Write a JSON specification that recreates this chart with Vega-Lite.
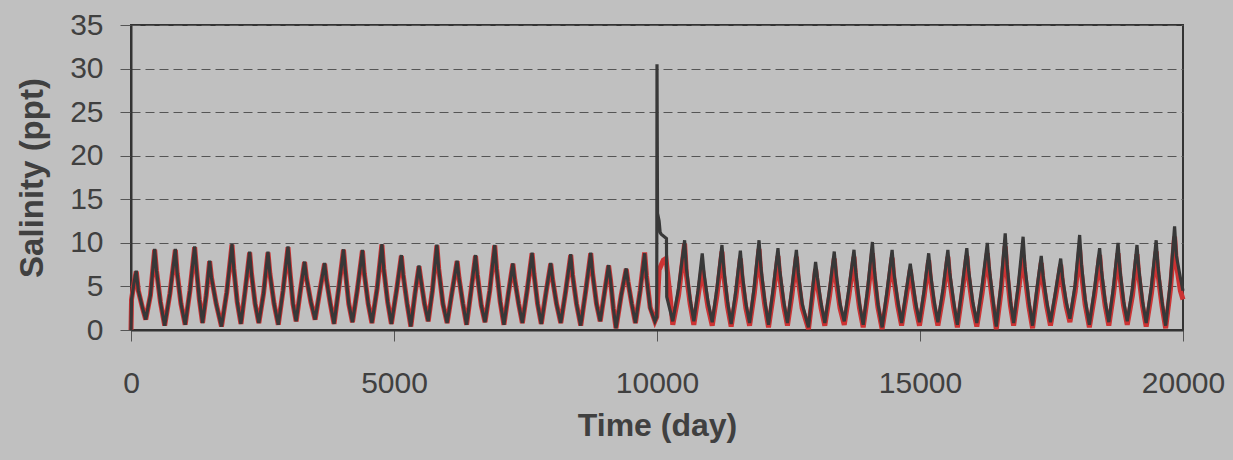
{
"$schema":"https://vega.github.io/schema/vega-lite/v6.json",
"width":1052,"height":305,
"autosize":{"type":"none"},
"padding":{"left":131,"top":25,"right":50,"bottom":130},
"background":"#c0c0c0",
"config":{
 "view":{"stroke":"#333333","strokeWidth":2,"fill":"#c0c0c0"},
 "font":"Liberation Sans",
 "axis":{"labelFont":"Liberation Sans","titleFont":"Liberation Sans","labelColor":"#404040","titleColor":"#404040","labelFontSize":30,"titleFontSize":32,"titleFontWeight":"bold","domainColor":"#333333","domainWidth":2,"tickColor":"#555555","tickWidth":1,"tickSize":11}
},
"data":{"values":[
{"t":0,"d":0,"r":0},{"t":10,"d":3.5,"r":3.5},{"t":60,"d":5.5,"r":5.5},{"t":100,"d":6.8,"r":6.7},{"t":140,"d":4.5,"r":4.5},{"t":220,"d":2.5,"r":2.5},{"t":280,"d":1.2,"r":1.2},
{"t":370,"d":4.0,"r":4.0},{"t":450,"d":9.3,"r":9.2},{"t":485,"d":6.8,"r":6.8},{"t":560,"d":3.2,"r":3.2},{"t":640,"d":0.5,"r":0.5},
{"t":740,"d":4.2,"r":4.2},{"t":843,"d":9.3,"r":9.2},{"t":878,"d":6.5,"r":6.5},{"t":950,"d":3.0,"r":3.0},{"t":1030,"d":0.6,"r":0.6},
{"t":1120,"d":4.5,"r":4.5},{"t":1210,"d":9.6,"r":9.5},{"t":1245,"d":7.0,"r":7.0},{"t":1300,"d":3.5,"r":3.5},{"t":1360,"d":0.8,"r":0.8},
{"t":1430,"d":4.0,"r":4.0},{"t":1495,"d":7.95,"r":7.9},{"t":1530,"d":6.0,"r":6.0},{"t":1620,"d":3.0,"r":3.0},{"t":1720,"d":0.4,"r":0.4},
{"t":1820,"d":4.3,"r":4.3},{"t":1920,"d":9.85,"r":9.8},{"t":1955,"d":7.0,"r":7.0},{"t":2020,"d":3.2,"r":3.2},{"t":2090,"d":0.7,"r":0.7},
{"t":2170,"d":4.5,"r":4.5},{"t":2256,"d":9.0,"r":8.9},{"t":2290,"d":6.5,"r":6.5},{"t":2360,"d":3.0,"r":3.0},{"t":2430,"d":0.8,"r":0.8},
{"t":2520,"d":4.2,"r":4.2},{"t":2604,"d":9.0,"r":8.9},{"t":2640,"d":6.5,"r":6.5},{"t":2720,"d":3.0,"r":3.0},{"t":2800,"d":0.6,"r":0.6},
{"t":2890,"d":4.5,"r":4.5},{"t":2985,"d":9.6,"r":9.5},{"t":3020,"d":6.8,"r":6.8},{"t":3080,"d":3.0,"r":3.0},{"t":3140,"d":1.0,"r":1.0},
{"t":3220,"d":4.5,"r":4.5},{"t":3300,"d":7.85,"r":7.8},{"t":3335,"d":6.0,"r":6.0},{"t":3420,"d":3.2,"r":3.2},{"t":3500,"d":1.2,"r":1.2},
{"t":3590,"d":4.5,"r":4.5},{"t":3680,"d":7.7,"r":7.6},{"t":3715,"d":5.8,"r":5.8},{"t":3790,"d":3.0,"r":3.0},{"t":3860,"d":0.7,"r":0.7},
{"t":3950,"d":4.8,"r":4.8},{"t":4040,"d":9.26,"r":9.2},{"t":4075,"d":6.8,"r":6.8},{"t":4140,"d":3.0,"r":3.0},{"t":4210,"d":0.9,"r":0.9},
{"t":4300,"d":4.5,"r":4.5},{"t":4400,"d":9.2,"r":9.1},{"t":4435,"d":6.5,"r":6.5},{"t":4510,"d":3.0,"r":3.0},{"t":4580,"d":0.8,"r":0.8},
{"t":4680,"d":4.8,"r":4.8},{"t":4770,"d":9.85,"r":9.8},{"t":4805,"d":7.0,"r":7.0},{"t":4880,"d":3.2,"r":3.2},{"t":4950,"d":0.7,"r":0.7},
{"t":5050,"d":4.6,"r":4.6},{"t":5140,"d":8.6,"r":8.5},{"t":5175,"d":6.3,"r":6.3},{"t":5250,"d":3.0,"r":3.0},{"t":5320,"d":0.4,"r":0.4},
{"t":5400,"d":4.2,"r":4.2},{"t":5475,"d":7.4,"r":7.3},{"t":5510,"d":5.8,"r":5.8},{"t":5580,"d":3.0,"r":3.0},{"t":5650,"d":1.0,"r":1.0},
{"t":5730,"d":4.5,"r":4.5},{"t":5815,"d":9.8,"r":9.7},{"t":5850,"d":7.0,"r":7.0},{"t":5930,"d":3.0,"r":3.0},{"t":6010,"d":0.8,"r":0.8},
{"t":6110,"d":4.6,"r":4.6},{"t":6200,"d":7.95,"r":7.9},{"t":6235,"d":6.0,"r":6.0},{"t":6310,"d":3.0,"r":3.0},{"t":6380,"d":0.6,"r":0.6},
{"t":6465,"d":4.5,"r":4.5},{"t":6550,"d":8.6,"r":8.5},{"t":6585,"d":6.3,"r":6.3},{"t":6660,"d":2.8,"r":2.8},{"t":6730,"d":0.9,"r":0.9},
{"t":6820,"d":4.5,"r":4.5},{"t":6915,"d":9.75,"r":9.7},{"t":6950,"d":7.0,"r":7.0},{"t":7020,"d":3.2,"r":3.2},{"t":7090,"d":0.6,"r":0.6},
{"t":7175,"d":4.2,"r":4.2},{"t":7260,"d":7.65,"r":7.6},{"t":7295,"d":5.8,"r":5.8},{"t":7370,"d":3.0,"r":3.0},{"t":7440,"d":0.8,"r":0.8},
{"t":7530,"d":4.5,"r":4.5},{"t":7625,"d":8.87,"r":8.8},{"t":7660,"d":6.5,"r":6.5},{"t":7730,"d":3.0,"r":3.0},{"t":7800,"d":0.7,"r":0.7},
{"t":7890,"d":4.3,"r":4.3},{"t":7980,"d":7.7,"r":7.6},{"t":8015,"d":5.8,"r":5.8},{"t":8090,"d":3.0,"r":3.0},{"t":8170,"d":0.8,"r":0.8},
{"t":8265,"d":4.5,"r":4.5},{"t":8360,"d":8.7,"r":8.6},{"t":8395,"d":6.3,"r":6.3},{"t":8470,"d":3.0,"r":3.0},{"t":8550,"d":0.5,"r":0.5},
{"t":8645,"d":4.5,"r":4.5},{"t":8740,"d":8.87,"r":8.8},{"t":8775,"d":6.5,"r":6.5},{"t":8850,"d":3.0,"r":3.0},{"t":8920,"d":1.0,"r":1.0},
{"t":9000,"d":4.2,"r":4.2},{"t":9080,"d":7.45,"r":7.4},{"t":9115,"d":5.8,"r":5.8},{"t":9170,"d":2.5,"r":2.5},{"t":9220,"d":0.2,"r":0.2},
{"t":9320,"d":4.0,"r":4.0},{"t":9415,"d":7.07,"r":7.0},{"t":9450,"d":5.5,"r":5.5},{"t":9520,"d":3.0,"r":3.0},{"t":9590,"d":0.8,"r":0.8},
{"t":9680,"d":4.5,"r":4.5},{"t":9765,"d":8.8,"r":8.9},{"t":9800,"d":6.0,"r":6.2},{"t":9870,"d":2.5,"r":2.6},{"t":9960,"d":1.0,"r":1.0},
{"t":9995,"d":1.5,"r":1.5},{"t":10000,"d":30.5,"r":2.0},{"t":10010,"d":13.4},{"t":10040,"d":12.5,"r":6.9},{"t":10060,"d":11.2},{"t":10080,"d":11.0},
{"t":10120,"r":8.0},{"t":10170,"r":8.2},{"t":10180,"d":10.5},{"t":10185,"d":3.8},{"t":10250,"r":3.8},{"t":10300,"d":1.0,"r":0.6},
{"t":10410,"d":4.8,"r":4.0},{"t":10525,"d":10.3,"r":9.9},{"t":10560,"d":7.0,"r":6.3},{"t":10630,"d":3.5,"r":3.0},{"t":10700,"d":1.0,"r":0.6},
{"t":10780,"d":4.5,"r":3.8},{"t":10860,"d":8.8,"r":7.2},{"t":10895,"d":6.5,"r":5.5},{"t":10970,"d":3.2,"r":2.6},{"t":11050,"d":0.9,"r":0.5},
{"t":11140,"d":4.8,"r":4.0},{"t":11235,"d":9.75,"r":9.0},{"t":11270,"d":7.0,"r":6.2},{"t":11340,"d":3.3,"r":2.7},{"t":11410,"d":0.7,"r":0.4},
{"t":11500,"d":4.5,"r":3.8},{"t":11585,"d":9.1,"r":8.2},{"t":11620,"d":6.5,"r":5.7},{"t":11690,"d":3.0,"r":2.5},{"t":11760,"d":0.8,"r":0.5},
{"t":11850,"d":5.0,"r":4.2},{"t":11940,"d":10.3,"r":9.3},{"t":11975,"d":7.2,"r":6.3},{"t":12050,"d":3.3,"r":2.8},{"t":12120,"d":0.6,"r":0.3},
{"t":12210,"d":4.8,"r":4.0},{"t":12300,"d":9.4,"r":8.5},{"t":12335,"d":6.8,"r":6.0},{"t":12410,"d":3.2,"r":2.7},{"t":12480,"d":0.8,"r":0.5},
{"t":12565,"d":4.8,"r":4.0},{"t":12650,"d":9.2,"r":8.4},{"t":12685,"d":6.6,"r":5.8},{"t":12760,"d":3.0,"r":2.5},{"t":12880,"d":0.3,"r":0.1},
{"t":12950,"d":4.2,"r":3.6},{"t":13015,"d":7.8,"r":7.0},{"t":13050,"d":6.0,"r":5.2},{"t":13120,"d":3.0,"r":2.5},{"t":13190,"d":0.8,"r":0.5},
{"t":13280,"d":4.6,"r":3.9},{"t":13370,"d":9.0,"r":8.2},{"t":13405,"d":6.5,"r":5.7},{"t":13480,"d":3.0,"r":2.5},{"t":13560,"d":1.0,"r":0.6},
{"t":13650,"d":4.8,"r":4.0},{"t":13745,"d":9.2,"r":8.4},{"t":13780,"d":6.6,"r":5.8},{"t":13850,"d":3.0,"r":2.5},{"t":13920,"d":0.6,"r":0.3},
{"t":14010,"d":5.0,"r":4.2},{"t":14095,"d":10.1,"r":8.8},{"t":14130,"d":7.0,"r":6.2},{"t":14200,"d":3.0,"r":2.6},{"t":14280,"d":0.3,"r":0.1},
{"t":14380,"d":4.8,"r":4.0},{"t":14470,"d":9.2,"r":8.3},{"t":14505,"d":6.5,"r":5.8},{"t":14580,"d":3.2,"r":2.7},{"t":14650,"d":0.8,"r":0.5},
{"t":14735,"d":4.3,"r":3.7},{"t":14815,"d":7.6,"r":6.9},{"t":14850,"d":6.0,"r":5.3},{"t":14920,"d":3.0,"r":2.5},{"t":14990,"d":0.9,"r":0.5},
{"t":15080,"d":4.6,"r":3.9},{"t":15165,"d":8.8,"r":8.0},{"t":15200,"d":6.5,"r":5.7},{"t":15270,"d":3.2,"r":2.7},{"t":15340,"d":0.9,"r":0.5},
{"t":15440,"d":4.8,"r":4.0},{"t":15530,"d":9.2,"r":8.4},{"t":15565,"d":6.6,"r":5.8},{"t":15640,"d":3.2,"r":2.6},{"t":15710,"d":0.6,"r":0.3},
{"t":15800,"d":4.8,"r":4.1},{"t":15890,"d":9.4,"r":8.5},{"t":15925,"d":6.8,"r":6.0},{"t":16000,"d":3.3,"r":2.7},{"t":16080,"d":0.8,"r":0.4},
{"t":16180,"d":5.0,"r":4.2},{"t":16280,"d":10.0,"r":8.8},{"t":16315,"d":7.2,"r":6.3},{"t":16390,"d":3.3,"r":2.8},{"t":16450,"d":0.4,"r":0.1},
{"t":16540,"d":5.2,"r":4.4},{"t":16620,"d":11.1,"r":9.6},{"t":16655,"d":7.5,"r":6.5},{"t":16720,"d":3.3,"r":2.8},{"t":16780,"d":0.8,"r":0.5},
{"t":16870,"d":5.2,"r":4.4},{"t":16960,"d":10.7,"r":8.6},{"t":16995,"d":7.3,"r":6.3},{"t":17070,"d":3.3,"r":2.7},{"t":17140,"d":0.5,"r":0.2},
{"t":17220,"d":4.6,"r":3.9},{"t":17305,"d":8.5,"r":7.7},{"t":17340,"d":6.2,"r":5.5},{"t":17410,"d":3.2,"r":2.7},{"t":17480,"d":0.9,"r":0.5},
{"t":17580,"d":4.5,"r":3.9},{"t":17675,"d":8.2,"r":7.5},{"t":17710,"d":6.0,"r":5.3},{"t":17780,"d":3.2,"r":2.7},{"t":17850,"d":1.3,"r":0.9},
{"t":17950,"d":5.2,"r":4.4},{"t":18035,"d":10.9,"r":9.2},{"t":18070,"d":7.5,"r":6.5},{"t":18140,"d":3.5,"r":2.9},{"t":18220,"d":0.6,"r":0.3},
{"t":18320,"d":4.8,"r":4.0},{"t":18415,"d":9.4,"r":8.6},{"t":18450,"d":6.8,"r":6.0},{"t":18520,"d":3.3,"r":2.8},{"t":18590,"d":0.9,"r":0.5},
{"t":18680,"d":5.0,"r":4.2},{"t":18765,"d":10.0,"r":8.8},{"t":18800,"d":7.0,"r":6.2},{"t":18870,"d":3.3,"r":2.8},{"t":18940,"d":1.0,"r":0.6},
{"t":19040,"d":4.8,"r":4.0},{"t":19125,"d":9.75,"r":8.7},{"t":19160,"d":7.0,"r":6.2},{"t":19230,"d":3.3,"r":2.8},{"t":19300,"d":0.8,"r":0.4},
{"t":19400,"d":5.0,"r":4.2},{"t":19490,"d":10.3,"r":9.0},{"t":19525,"d":7.2,"r":6.4},{"t":19600,"d":3.3,"r":2.8},{"t":19670,"d":0.5,"r":0.2},
{"t":19760,"d":5.5,"r":4.6},{"t":19840,"d":11.9,"r":10.7},{"t":19875,"d":8.5,"r":7.5},{"t":19950,"d":6.0,"r":4.5},{"t":20000,"d":4.5,"r":3.5}
]},
"encoding":{
 "x":{"field":"t","type":"quantitative","scale":{"domain":[0,20000],"nice":false,"zero":false},
  "axis":{"title":"Time (day)","values":[0,5000,10000,15000,20000],"format":"d","grid":false,"labelPadding":27,"titlePadding":12,"labelFlush":false,"labelOverlap":false}}
},
"layer":[
 {"mark":{"type":"line","color":"#cc3333","strokeWidth":5,"invalid":"filter"},
  "encoding":{"y":{"field":"r","type":"quantitative","title":"Salinity (ppt)","scale":{"domain":[0,35],"nice":false},
   "axis":{"values":[0,5,10,15,20,25,30,35],"grid":true,"gridColor":"#555555","gridDash":[9,5],"gridWidth":1,"labelPadding":17,"titlePadding":20,"titleFontSize":33}}}},
 {"mark":{"type":"line","color":"#383838","strokeWidth":3.2,"invalid":"filter"},
  "encoding":{"y":{"field":"d","type":"quantitative","title":"Salinity (ppt)"}}}
]
}
